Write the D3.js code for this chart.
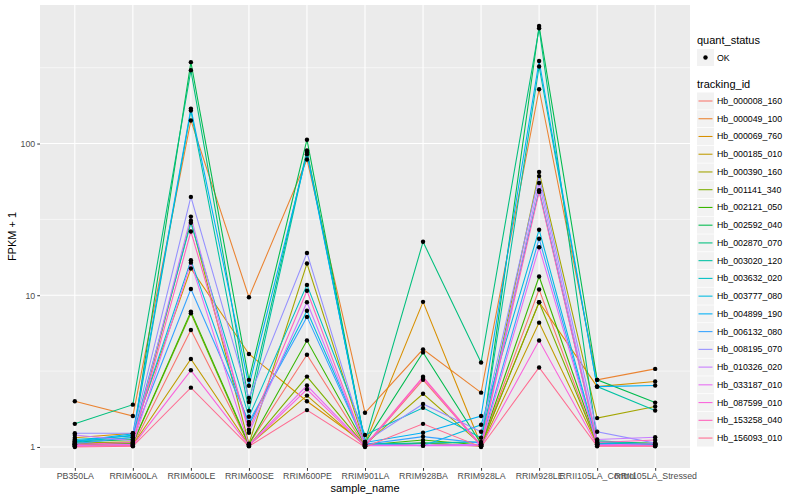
<!DOCTYPE html>
<html>
<head>
<meta charset="utf-8">
<script src="https://cdn.jsdelivr.net/npm/d3@7"></script>
<style>
body { margin: 0; background: #fff; }
svg text { font-family: "Liberation Sans", Arial, sans-serif; }
</style>
</head>
<body>
<div id="chart"></div>
<script>
// samples on the x axis
var samples = ["PB350LA", "RRIM600LA", "RRIM600LE", "RRIM600SE", "RRIM600PE", "RRIM901LA",
               "RRIM928BA", "RRIM928LA", "RRIM928LE", "RRII105LA_Control", "RRII105LA_Stressed"];

var trackingIds = ["Hb_000008_160", "Hb_000049_100", "Hb_000069_760", "Hb_000185_010", "Hb_000390_160",
                   "Hb_001141_340", "Hb_002121_050", "Hb_002592_040", "Hb_002870_070", "Hb_003020_120",
                   "Hb_003632_020", "Hb_003777_080", "Hb_004899_190", "Hb_006132_080", "Hb_008195_070",
                   "Hb_010326_020", "Hb_033187_010", "Hb_087599_010", "Hb_153258_040", "Hb_156093_010"];

// FPKM + 1, one row per tracking_id, columns follow samples
var Hb_000008_160 = [1.03, 1.02, 5.9, 1.04, 4.05, 1.01, 2.77, 1.02, 10.9, 1.03, 1.04];
var Hb_000049_100 = [2.0, 1.6, 142, 9.7, 78.5, 1.68, 4.4, 2.28, 228, 2.77, 3.27];
var Hb_000069_760 = [1.15, 1.23, 15, 4.1, 2.0, 1.05, 9.05, 1.03, 9.0, 2.5, 2.7];
var Hb_000185_010 = [1.02, 1.03, 3.8, 1.03, 2.18, 1.02, 1.06, 1.01, 6.6, 1.04, 1.03];
var Hb_000390_160 = [1.06, 1.08, 31, 1.05, 16.2, 1.04, 2.24, 1.04, 65, 1.55, 1.85];
var Hb_001141_340 = [1.04, 1.05, 7.6, 1.02, 2.91, 1.02, 1.06, 1.02, 9.0, 1.05, 1.05];
var Hb_002121_050 = [1.05, 1.06, 7.8, 1.04, 5.03, 1.03, 1.11, 1.03, 13.3, 1.06, 1.06];
var Hb_002592_040 = [1.08, 1.12, 344, 2.77, 106, 1.06, 4.2, 1.05, 595, 2.77, 1.96];
var Hb_002870_070 = [1.42, 1.9, 304, 1.98, 90, 1.08, 22.5, 3.6, 575, 1.1, 1.05];
var Hb_003020_120 = [1.1, 1.15, 165, 1.73, 88, 1.05, 1.06, 1.08, 322, 2.5, 1.74];
var Hb_003632_020 = [1.12, 1.18, 30, 1.58, 11.7, 1.2, 1.81, 1.15, 49.2, 1.08, 1.04];
var Hb_003777_080 = [1.07, 1.2, 17, 1.4, 7.9, 1.05, 1.02, 1.4, 27, 1.06, 1.03];
var Hb_004899_190 = [1.09, 1.22, 170, 2.53, 85, 1.07, 1.24, 1.6, 350, 2.5, 2.54];
var Hb_006132_080 = [1.05, 1.16, 11, 1.46, 7.2, 1.04, 1.17, 1.06, 23.6, 1.04, 1.02];
var Hb_008195_070 = [1.23, 1.23, 44.5, 2.1, 19, 1.08, 1.92, 1.26, 61, 1.26, 1.06];
var Hb_010326_020 = [1.2, 1.1, 33, 1.24, 9.0, 1.03, 1.03, 1.04, 55, 1.12, 1.16];
var Hb_033187_010 = [1.02, 1.04, 16.4, 1.03, 2.54, 1.02, 1.02, 1.02, 20.7, 1.03, 1.05];
var Hb_087599_010 = [1.01, 1.02, 3.2, 1.02, 2.4, 1.01, 2.85, 1.01, 5.03, 1.02, 1.02];
var Hb_153258_040 = [1.04, 1.07, 26.3, 1.3, 10.7, 1.02, 2.9, 1.03, 48, 1.07, 1.11];
var Hb_156093_010 = [1.0, 1.01, 2.46, 1.01, 1.75, 1.0, 1.42, 1.0, 3.34, 1.01, 1.01];

var seriesValues = [Hb_000008_160, Hb_000049_100, Hb_000069_760, Hb_000185_010, Hb_000390_160,
                    Hb_001141_340, Hb_002121_050, Hb_002592_040, Hb_002870_070, Hb_003020_120,
                    Hb_003632_020, Hb_003777_080, Hb_004899_190, Hb_006132_080, Hb_008195_070,
                    Hb_010326_020, Hb_033187_010, Hb_087599_010, Hb_153258_040, Hb_156093_010];

var yTicks = [1, 10, 100];
var yMinor = [Math.pow(10, 0.5), Math.pow(10, 1.5), Math.pow(10, 2.5)];

// ggplot default hue palette for 20 levels
var palette = ["#F8766D", "#EA8331", "#D89000", "#C09B00", "#A3A500", "#7CAE00", "#39B600", "#00BB4E",
               "#00BF7D", "#00C1A3", "#00BFC4", "#00BAE0", "#00B0F6", "#35A2FF", "#9590FF", "#C77CFF",
               "#E76BF3", "#FA62DB", "#FF62BC", "#FF6C91"];

var W = 800, H = 500;
var panel = {left: 40, right: 690, top: 5, bottom: 468};

var svg = d3.select("#chart").append("svg")
  .attr("width", W)
  .attr("height", H);

// discrete x with ggplot's 0.6 expansion
var x = d3.scalePoint()
  .domain(samples)
  .range([panel.left, panel.right])
  .padding(0.6);

var allVals = d3.merge(seriesValues);
var lmin = Math.log10(d3.min(allVals)), lmax = Math.log10(d3.max(allVals));
var ext = (lmax - lmin) * 0.05;
var y = d3.scaleLog()
  .domain([Math.pow(10, lmin - ext), Math.pow(10, lmax + ext)])
  .range([panel.bottom, panel.top]);

var color = d3.scaleOrdinal().domain(trackingIds).range(palette);

// panel background
svg.append("rect")
  .attr("x", panel.left).attr("y", panel.top)
  .attr("width", panel.right - panel.left)
  .attr("height", panel.bottom - panel.top)
  .attr("fill", "#EBEBEB");

// grid
svg.selectAll(".minor").data(yMinor).enter().append("line")
  .attr("x1", panel.left).attr("x2", panel.right)
  .attr("y1", function(d) { return y(d); }).attr("y2", function(d) { return y(d); })
  .attr("stroke", "#fff").attr("stroke-width", 0.55);

svg.selectAll(".major").data(yTicks).enter().append("line")
  .attr("x1", panel.left).attr("x2", panel.right)
  .attr("y1", function(d) { return y(d); }).attr("y2", function(d) { return y(d); })
  .attr("stroke", "#fff").attr("stroke-width", 1.1);

svg.selectAll(".vgrid").data(samples).enter().append("line")
  .attr("x1", function(d) { return x(d); }).attr("x2", function(d) { return x(d); })
  .attr("y1", panel.top).attr("y2", panel.bottom)
  .attr("stroke", "#fff").attr("stroke-width", 1.1);

// lines
var line = d3.line()
  .x(function(d, i) { return x(samples[i]); })
  .y(function(d) { return y(d); });

svg.append("g").selectAll("path")
  .data(seriesValues)
  .enter().append("path")
  .attr("d", line)
  .attr("fill", "none")
  .attr("stroke", function(d, i) { return color(trackingIds[i]); })
  .attr("stroke-width", 1.07);

// points
var pts = [];
seriesValues.forEach(function(s) {
  s.forEach(function(v, i) { pts.push({s: samples[i], v: v}); });
});
svg.append("g").selectAll("circle")
  .data(pts)
  .enter().append("circle")
  .attr("cx", function(d) { return x(d.s); })
  .attr("cy", function(d) { return y(d.v); })
  .attr("r", 2.2)
  .attr("fill", "#000");

// axes
var yAxis = d3.axisLeft(y).tickValues(yTicks).tickFormat(d3.format("d")).tickSize(2.75).tickPadding(2);
var gy = svg.append("g").attr("transform", "translate(" + panel.left + ",0)").call(yAxis);
var xAxis = d3.axisBottom(x).tickSize(2.75).tickPadding(2);
var gx = svg.append("g").attr("transform", "translate(0," + panel.bottom + ")").call(xAxis);

[gy, gx].forEach(function(g) {
  g.select(".domain").remove();
  g.selectAll(".tick line").attr("stroke", "#333");
  g.selectAll(".tick text").attr("fill", "#4D4D4D").style("font-size", "8.8px");
});

svg.append("text")
  .attr("x", (panel.left + panel.right) / 2)
  .attr("y", 492)
  .attr("text-anchor", "middle")
  .style("font-size", "11px")
  .text("sample_name");

svg.append("text")
  .attr("transform", "translate(16," + ((panel.top + panel.bottom) / 2) + ") rotate(-90)")
  .attr("text-anchor", "middle")
  .style("font-size", "11px")
  .text("FPKM + 1");

// legends
var lg = svg.append("g").attr("transform", "translate(697,0)");
lg.append("text").attr("x", 0).attr("y", 44).style("font-size", "11px").text("quant_status");
lg.append("rect").attr("x", 0).attr("y", 49).attr("width", 17).attr("height", 17).attr("fill", "#F2F2F2");
lg.append("circle").attr("cx", 8.5).attr("cy", 57.5).attr("r", 2.2).attr("fill", "#000");
lg.append("text").attr("x", 20).attr("y", 60.5).style("font-size", "8.8px").attr("fill", "#000").text("OK");

lg.append("text").attr("x", 0).attr("y", 88).style("font-size", "11px").text("tracking_id");
var step = 17.74;
var keys = lg.selectAll(".key").data(trackingIds).enter().append("g")
  .attr("transform", function(d, i) { return "translate(0," + (92.5 + i * step) + ")"; });
keys.append("rect").attr("width", 17).attr("height", 17).attr("fill", "#F2F2F2");
keys.append("line").attr("x1", 1.5).attr("x2", 15.5).attr("y1", 8.5).attr("y2", 8.5)
  .attr("stroke", function(d) { return color(d); }).attr("stroke-width", 1.07);
keys.append("text").attr("x", 20).attr("y", 11.5).style("font-size", "8.8px").text(function(d) { return d; });
</script>
</body>
</html>
